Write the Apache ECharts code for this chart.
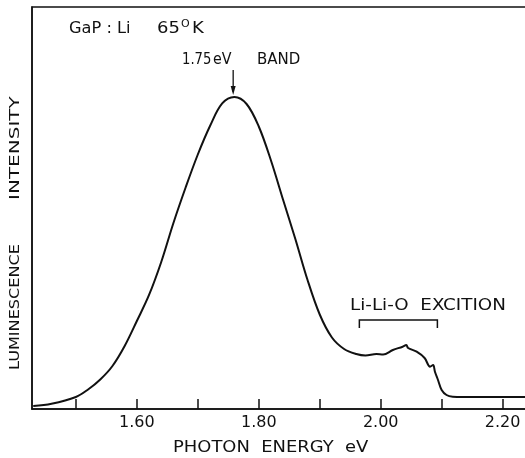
<!DOCTYPE html>
<html>
<head>
<meta charset="utf-8">
<script src="https://cdn.jsdelivr.net/npm/echarts@6/dist/echarts.min.js"></script>
<style>
html,body{margin:0;padding:0;background:#fff;}
#c{width:525px;height:458px;}
</style>
</head>
<body>
<div id="c"></div>
<script>
// Photon energy (eV) and luminescence intensity (arbitrary units, 0-100)
const energy = [1.43,1.46,1.50,1.52,1.54,1.56,1.58,1.60,1.62,1.64,1.66,1.68,1.70,1.72,1.74,1.76,1.78,1.80,1.82,1.84,1.86,1.88,1.90,1.92,1.94,1.96,1.975,1.993,2.004,2.020,2.036,2.042,2.045,2.059,2.072,2.081,2.086,2.089,2.094,2.100,2.108,2.118,2.135,2.240];
const intensity = [0.75,1.29,2.99,4.85,7.34,10.70,15.67,21.89,28.36,36.57,46.27,55.10,63.31,70.40,76.00,77.61,75.87,70.27,61.82,51.99,42.29,32.09,23.51,17.79,14.93,13.68,13.30,13.68,13.56,14.68,15.50,15.92,15.17,14.25,12.69,10.53,10.95,9.28,7.21,4.73,3.48,3.06,2.99,2.99];
const tickValues = [1.5,1.6,1.7,1.8,1.9,2.0,2.1,2.2];
const labelValues = [1.6,1.8,2.0,2.2];
const peakEnergy = 1.758;
const excitonRange = [1.965, 2.093];

const chart = echarts.init(document.getElementById('c'), null, {renderer:'canvas'});
const FONT = 'DejaVu Sans';
const INK = '#111';

chart.setOption({
  animation:false,
  backgroundColor:'#fff',
  grid:{left:32, top:7, width:495, height:402, outerBoundsMode:'none', containLabel:false,
        show:true, borderColor:INK, borderWidth:1.5, backgroundColor:'transparent'},
  xAxis:{
    type:'value', min:1.428, max:2.240,
    axisLine:{show:true, lineStyle:{color:INK, width:1.5}},
    axisTick:{show:true, inside:true, length:10, customValues:tickValues, lineStyle:{color:INK, width:1.5}},
    axisLabel:{show:true, customValues:labelValues, formatter:v=>v.toFixed(2), fontFamily:FONT, fontSize:16, color:INK, margin:6},
    splitLine:{show:false}
  },
  yAxis:{
    type:'value', min:0, max:100,
    axisLine:{show:true, lineStyle:{color:INK, width:1.5}},
    axisTick:{show:false}, axisLabel:{show:false}, splitLine:{show:false}
  },
  series:[{
    type:'line', data:energy.map((e,i)=>[e,intensity[i]]),
    showSymbol:false, smooth:0.35,
    lineStyle:{color:INK, width:2}
  }]
});

const pk = chart.convertToPixel({gridIndex:0}, [peakEnergy, 0]);
const b0 = chart.convertToPixel({gridIndex:0}, [excitonRange[0], 0]);
const b1 = chart.convertToPixel({gridIndex:0}, [excitonRange[1], 0]);
function txt(text, x, y, size, sx, rot){
  return {type:'text', x:x, y:y, scaleX:sx||1, rotation:rot||0,
    style:{text:text, fontFamily:FONT, fontSize:size, fill:INK, align:'left', verticalAlign:'middle'}};
}
chart.setOption({
  graphic:[
    txt('GaP : Li', 69, 29, 15, 1.08),
    txt('65', 157, 29, 15, 1.2),
    txt('O', 181, 24, 11, 1.0),
    txt('K', 192, 29, 15, 1.2),
    txt('1.75', 182, 60, 15, 0.88),
    txt('eV', 213, 60, 15, 0.95),
    txt('BAND', 257, 60, 15, 1.0),
    {type:'line', shape:{x1:pk[0], y1:70, x2:pk[0], y2:92}, style:{stroke:INK, lineWidth:1.3}},
    {type:'polygon', shape:{points:[[pk[0]-2.5,86],[pk[0]+2.5,86],[pk[0],95]]}, style:{fill:INK}},
    txt('Li-Li-O  EXCITION', 350, 306, 15, 1.22),
    {type:'polyline', shape:{points:[[b0[0],328],[b0[0],320],[b1[0],320],[b1[0],328]]}, style:{stroke:INK, lineWidth:1.5, fill:null}},
    txt('PHOTON  ENERGY  eV', 173, 448, 16, 1.12),
    txt('LUMINESCENCE', 15, 370, 14, 1.15, Math.PI/2),
    txt('INTENSITY', 15, 200, 14, 1.43, Math.PI/2)
  ]
});
</script>
</body>
</html>
